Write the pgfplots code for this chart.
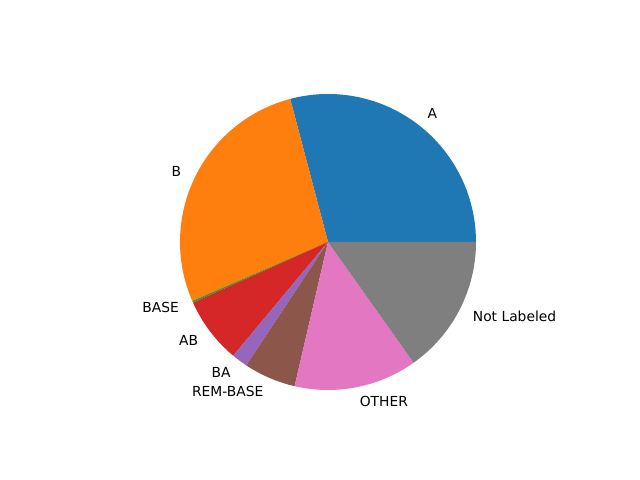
\documentclass[border=0pt]{standalone}
\usepackage{fontspec}
\setmainfont{DejaVu Sans}
\usepackage{pgfplots}
\pgfplotsset{compat=1.18}
% matplotlib tab10
\definecolor{tabblue}{HTML}{1F77B4}
\definecolor{taborange}{HTML}{FF7F0E}
\definecolor{tabgreen}{HTML}{2CA02C}
\definecolor{tabred}{HTML}{D62728}
\definecolor{tabpurple}{HTML}{9467BD}
\definecolor{tabbrown}{HTML}{8C564B}
\definecolor{tabpink}{HTML}{E377C2}
\definecolor{tabgray}{HTML}{7F7F7F}
\begin{document}
\begin{tikzpicture}
\begin{axis}[
  scale only axis, width=6.4in, height=4.8in,
  xmin=0, xmax=640, ymin=0, ymax=480,
  hide axis,
]
\addplot[draw=none] coordinates {(0,0) (640,480)};
\coordinate (c) at (axis cs:328,238);
\coordinate (ll) at (axis cs:0,0);
\coordinate (ur) at (axis cs:640,480);
\end{axis}
\def\R{1.48in}
\def\Rl{1.628in}
\xdef\start{0}
% shares in percent, counterclockwise from 0 deg
\foreach \v/\col/\lab in {
  29.11/tabblue/A,
  27.41/taborange/B,
  0.20/tabgreen/BASE,
  7.22/tabred/AB,
  1.75/tabpurple/BA,
  5.69/tabbrown/REM-BASE,
  13.44/tabpink/OTHER,
  15.18/tabgray/Not Labeled}{
  \pgfmathsetmacro\e{\start+3.6*\v}
  \pgfmathsetmacro\m{(\start+\e)/2}
  \pgfmathsetmacro\cs{cos(\m)}
  \fill[\col] (c) -- ([shift={(\start:\R)}]c) arc[start angle=\start, end angle=\e, radius=\R] -- cycle;
  \ifdim\cs pt>0pt
    \node[anchor=west, inner sep=0pt, font=\fontsize{10}{12}\selectfont] at ([shift={(\m:\Rl)}]c) {\lab};
  \else
    \node[anchor=east, inner sep=0pt, font=\fontsize{10}{12}\selectfont] at ([shift={(\m:\Rl)}]c) {\lab};
  \fi
  \xdef\start{\e}
}
\useasboundingbox (ll) rectangle (ur);
\end{tikzpicture}
\end{document}
